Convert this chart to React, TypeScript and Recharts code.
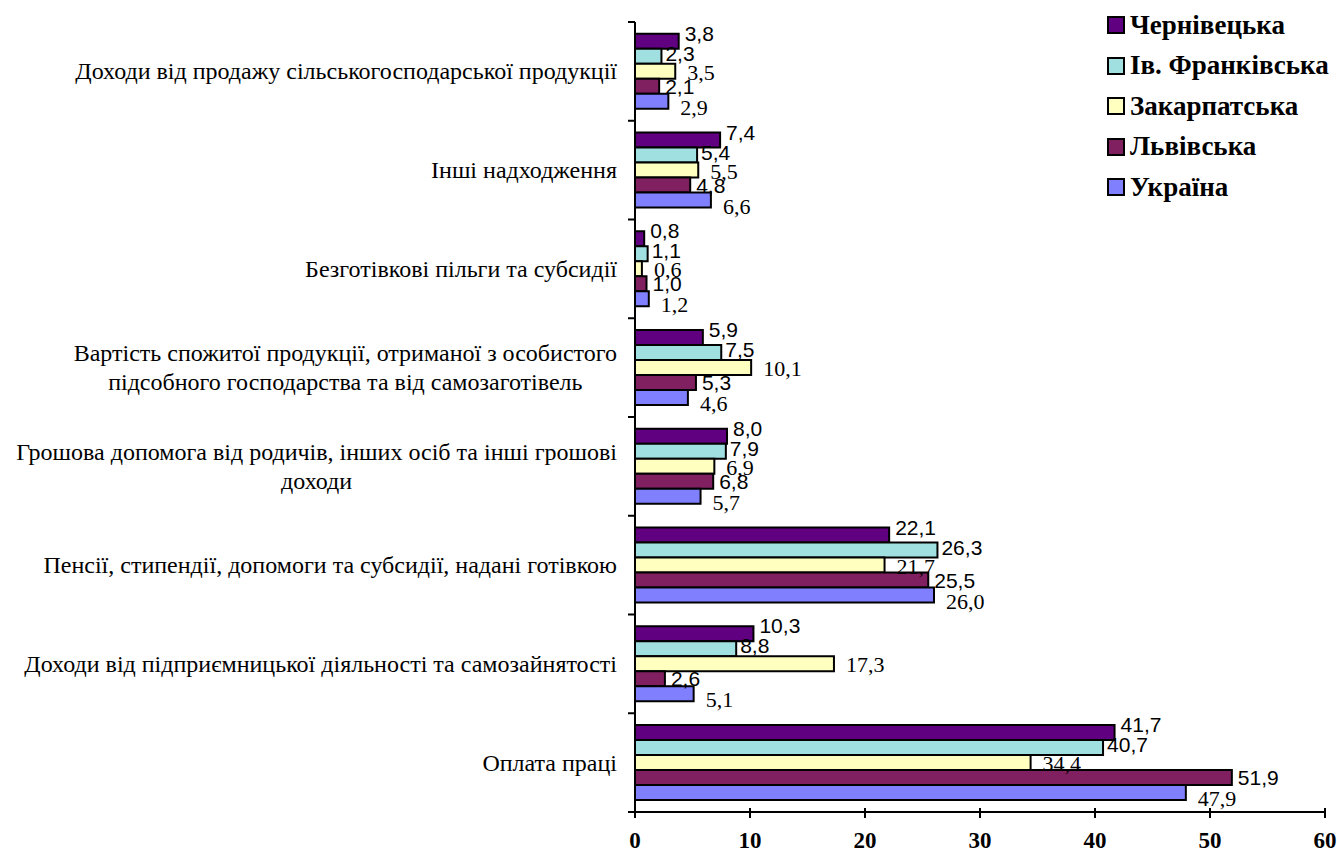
import { useLayoutEffect, useRef, useState } from "react";
import { BarChart, Bar, XAxis, YAxis, LabelList } from "recharts";

// categories top to bottom
const categories = [
  "Доходи від продажу сільськогосподарської продукції",
  "Інші надходження",
  "Безготівкові пільги та субсидії",
  "Вартість спожитої продукції, отриманої з особистого\nпідсобного господарства та від самозаготівель",
  "Грошова допомога від родичів, інших осіб та інші грошові\nдоходи",
  "Пенсії, стипендії, допомоги та субсидії, надані готівкою",
  "Доходи від підприємницької діяльності та самозайнятості",
  "Оплата праці",
];

const chernivetska = [3.8, 7.4, 0.8, 5.9, 8.0, 22.1, 10.3, 41.7];
const ivFrankivska = [2.3, 5.4, 1.1, 7.5, 7.9, 26.3, 8.8, 40.7];
const zakarpatska = [3.5, 5.5, 0.6, 10.1, 6.9, 21.7, 17.3, 34.4];
const lvivska = [2.1, 4.8, 1.0, 5.3, 6.8, 25.5, 2.6, 51.9];
const ukraina = [2.9, 6.6, 1.2, 4.6, 5.7, 26.0, 5.1, 47.9];

const xTicks = [0, 10, 20, 30, 40, 50, 60];

const SERIF = "Liberation Serif, Tinos, Times New Roman, serif";
const SANS = "Liberation Sans, Arial, sans-serif";

const W = 1337;
const H = 858;
const PLOT_LEFT = 635;
const PLOT_TOP = 22;
const PLOT_BOTTOM = 812;
const BAND = (PLOT_BOTTOM - PLOT_TOP) / categories.length;

const series = [
  { key: "chernivetska", name: "Чернівецька", color: "#600080", font: SANS, dx: 6, dy: -8 },
  { key: "ivFrankivska", name: "Ів. Франківська", color: "#A0E0E0", font: SANS, dx: 4, dy: -3 },
  { key: "zakarpatska", name: "Закарпатська", color: "#FFFFC0", font: SERIF, dx: 12, dy: 1 },
  { key: "lvivska", name: "Львівська", color: "#802060", font: SANS, dx: 6, dy: 0 },
  { key: "ukraina", name: "Україна", color: "#8080FF", font: SERIF, dx: 12, dy: 6 },
];

const data = categories.map((name, i) => ({
  name,
  chernivetska: chernivetska[i],
  ivFrankivska: ivFrankivska[i],
  zakarpatska: zakarpatska[i],
  lvivska: lvivska[i],
  ukraina: ukraina[i],
}));

const CAT_SIZE = 24;

function CategoryTick(props: any) {
  const { y, payload, index } = props;
  const lines = String(payload.value).split("\n");
  const right = PLOT_LEFT - 18;
  const lineH = 29;
  const firstRef = useRef<SVGTextElement>(null);
  const [firstW, setFirstW] = useState(lines[0].length * 11);
  useLayoutEffect(() => {
    if (firstRef.current) setFirstW(firstRef.current.getComputedTextLength());
  }, [payload.value]);
  const startY = y - ((lines.length - 1) * lineH) / 2;
  const top = y - BAND / 2;
  return (
    <g>
      <line x1={PLOT_LEFT - 7} x2={PLOT_LEFT} y1={top} y2={top} stroke="#000" strokeWidth={2} />
      {index === categories.length - 1 && (
        <line x1={PLOT_LEFT - 7} x2={PLOT_LEFT} y1={top + BAND} y2={top + BAND} stroke="#000" strokeWidth={2} />
      )}
      {lines.map((l, i) => (
        <text
          key={i}
          ref={i === 0 ? firstRef : undefined}
          x={i === 0 ? right : right - firstW / 2}
          y={startY + i * lineH}
          textAnchor={i === 0 ? "end" : "middle"}
          dominantBaseline="central"
          fontFamily={SERIF}
          fontSize={CAT_SIZE}
          fill="#000"
        >
          {l}
        </text>
      ))}
    </g>
  );
}

function ValueTick(props: any) {
  const { x, y, payload } = props;
  return (
    <g>
      <line x1={x} x2={x} y1={PLOT_BOTTOM - 4} y2={PLOT_BOTTOM + 6} stroke="#000" strokeWidth={2} />
      <text x={x} y={y + 28} textAnchor="middle" fontFamily={SERIF} fontWeight="bold" fontSize={23} fill="#000">
        {payload.value}
      </text>
    </g>
  );
}

function makeLabel(font: string, dx: number, dy: number) {
  return (props: any) => {
    const { x, y, width, height, value } = props;
    return (
      <text
        x={x + width + dx}
        y={y + height / 2 + dy}
        dominantBaseline="central"
        fontFamily={font}
        fontSize={font === SANS ? 21 : 22}
        fill="#000"
      >
        {Number(value).toFixed(1).replace(".", ",")}
      </text>
    );
  };
}

export default function App() {
  return (
    <div style={{ position: "absolute", left: 0, top: 0, width: W, height: H, background: "#fff", fontFamily: SERIF }}>
      <BarChart
        width={W}
        height={H}
        data={data}
        layout="vertical"
        margin={{ top: PLOT_TOP, right: 12, bottom: 6, left: 0 }}
        barCategoryGap="12%"
        barGap={0}
      >
        <XAxis
          type="number"
          domain={[0, 60]}
          ticks={xTicks}
          height={H - PLOT_BOTTOM - 6}
          axisLine={{ stroke: "#000", strokeWidth: 2 }}
          tickLine={false}
          tick={<ValueTick />}
          interval={0}
        />
        <YAxis
          type="category"
          dataKey="name"
          width={PLOT_LEFT}
          axisLine={{ stroke: "#000", strokeWidth: 2 }}
          tickLine={false}
          tickSize={0}
          tick={<CategoryTick />}
          interval={0}
        />
        {series.map((s) => (
          <Bar
            key={s.key}
            dataKey={s.key}
            name={s.name}
            fill={s.color}
            stroke="#000"
            strokeWidth={2}
            isAnimationActive={false}
          >
            <LabelList dataKey={s.key} content={makeLabel(s.font, s.dx, s.dy)} />
          </Bar>
        ))}
      </BarChart>
      <div style={{ position: "absolute", left: 1107, top: 5 }}>
        {series.map((s) => (
          <div
            key={s.key}
            style={{
              display: "flex",
              alignItems: "center",
              height: 40.5,
              fontFamily: SERIF,
              fontWeight: "bold",
              fontSize: 27,
            }}
          >
            <span
              style={{
                display: "inline-block",
                width: 14,
                height: 14,
                background: s.color,
                border: "2px solid #000",
                marginRight: 5,
              }}
            />
            {s.name}
          </div>
        ))}
      </div>
    </div>
  );
}
